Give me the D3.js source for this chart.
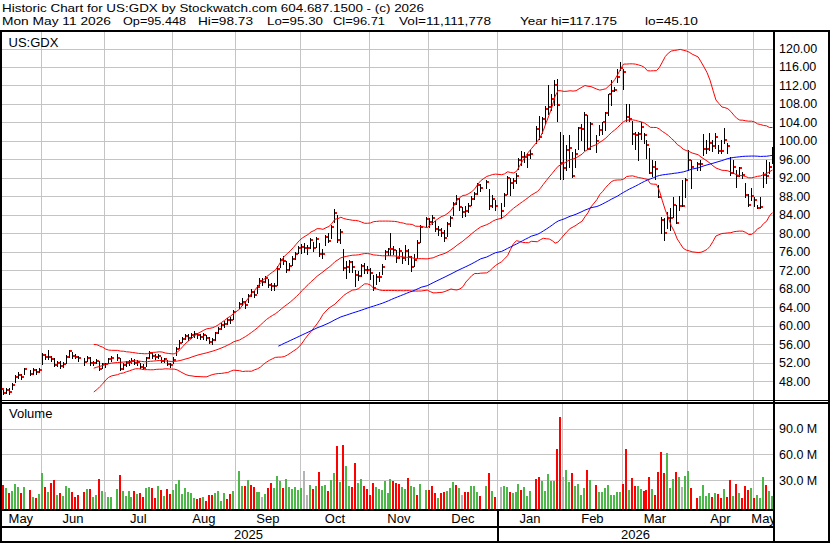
<!DOCTYPE html>
<html>
<head>
<meta charset="utf-8">
<script src="https://cdnjs.cloudflare.com/ajax/libs/d3/7.8.5/d3.min.js"></script>
<style>
  body { margin: 0; background: #fff; }
  svg { display: block; }
  text { font-family: "Liberation Sans", Arial, sans-serif; fill: #000; }
</style>
</head>
<body>
<svg width="830" height="543"></svg>
<script>
const svg = d3.select("svg");
const width = +svg.attr("width");
const height = +svg.attr("height");

// --- calendar -------------------------------------------------------------
const firstDay = "2025-05-13";
const lastDay = "2026-05-11";
const holidays = ["2025-05-26", "2025-06-19", "2025-07-04", "2025-09-01", "2025-11-27",
  "2025-12-25", "2026-01-01", "2026-01-19", "2026-02-16", "2026-04-03"];
const monthLabels = ["May", "Jun", "Jul", "Aug", "Sep", "Oct", "Nov", "Dec",
  "Jan", "Feb", "Mar", "Apr", "May"];
const yearLabels = ["2025", "2026"];
const priceTicks = d3.range(48, 121, 4);
const volumeTicks = [30, 60, 90]; // millions

// --- daily data (one value per trading day) ---------------------------------
const close = [
  46.2, 45.3, 46.0, 45.6, 47.2, 48.8, 49.3, 48.9, 50.5, 49.5, 50.3, 50.0, 50.4, // May
  53.6, 53.1, 53.2, 52.8, 51.5, 52.0, 51.2, 51.7, 53.3, 54.4, 53.4, 53.3, 52.9, 52.2, 53.0, 51.8, 51.9, 52.4, 50.7, 51.7, // Jun
  51.7, 52.7, 52.9, 53.0, 50.7, 51.5, 51.8, 52.2, 52.4, 52.0, 52.2, 51.1, 50.9, 52.9, 54.1, 53.4, 53.2, 53.5, 52.4, 52.7, 51.7, 51.5, // Jul
  52.6, 54.9, 56.3, 57.2, 57.7, 57.4, 58.0, 58.2, 57.9, 57.5, 57.9, 57.4, 56.5, 56.8, 58.3, 59.2, 60.1, 60.3, 61.2, 61.2, 63.0, // Aug
  64.7, 65.2, 64.4, 66.4, 67.3, 66.6, 68.4, 69.6, 69.5, 70.3, 68.8, 68.5, 68.5, 72.2, 74.2, 74.0, 72.0, 72.9, 74.5, 75.6, 76.7, // Sep
  77.0, 76.9, 76.7, 78.5, 76.7, 78.8, 75.5, 75.5, 79.2, 78.3, 81.4, 84.4, 78.5, 80.3, 72.5, 72.6, 73.8, 72.6, 70.9, 70.7, 72.9, 72.0, 72.0, // Oct
  71.3, 68.2, 70.6, 70.6, 72.6, 75.9, 76.5, 76.6, 76.4, 74.7, 76.1, 74.7, 76.2, 74.9, 72.7, 74.2, 77.9, 81.4, 83.0, // Nov
  82.5, 83.2, 81.0, 80.6, 80.0, 79.0, 81.9, 83.2, 86.3, 87.5, 85.7, 84.6, 84.8, 86.0, 87.5, 88.4, 90.4, 89.7, 91.1, 85.8, 87.5, 85.8, // Dec
  84.8, 88.2, 92.0, 90.9, 91.3, 92.3, 95.8, 96.5, 96.6, 96.9, 97.1, 102.6, 100.8, 104.8, 106.9, 107.3, 109.1, 112.0, 107.7, 95.1, // Jan
  94.1, 97.95, 98.45, 92.4, 97.1, 102.8, 102.5, 105.7, 98.3, 103.7, 99.9, 102.3, 104.1, 106.1, 110.2, 110.8, 111.1, 113.8, 115.75, // Feb
  115.0, 105.2, 104.8, 101.55, 101.2, 101.4, 103.0, 101.3, 99.1, 93.1, 94.4, 93.9, 87.9, 82.9, 80.1, 83.4, 83.4, 86.1, 82.3, 85.8, 85.8, 91.5, // Mar
  95.9, 94.4, 94.9, 94.9, 98.2, 98.2, 99.5, 98.8, 100.8, 97.7, 97.7, 100.2, 98.8, 93.0, 94.4, 92.3, 94.1, 92.6, 88.3, 86.1, 88.1, // Apr
  87.2, 85.5, 85.6, 92.6, 92.3, 94.4, 96.71 // May
];

const high = [
  46.8, 46.3, 46.5, 46.4, 47.5, 49.2, 49.9, 49.6, 50.8, 50.3, 50.8, 50.6, 50.9,
  54.0, 53.9, 54.7, 53.4, 52.9, 52.4, 52.3, 52.2, 53.6, 54.8, 54.3, 53.9, 53.5, 52.9, 53.4, 53.2, 52.3, 52.8, 52.4, 51.9,
  52.0, 53.0, 53.4, 53.9, 53.0, 51.9, 52.3, 52.6, 53.0, 52.7, 52.5, 52.0, 51.6, 53.1, 54.5, 54.2, 53.8, 53.9, 53.3, 53.0, 52.6, 52.0,
  53.3, 55.3, 56.8, 57.6, 58.2, 58.1, 58.5, 58.8, 58.5, 58.2, 58.3, 58.0, 57.6, 57.3, 58.6, 59.6, 60.5, 60.9, 61.6, 61.8, 63.3,
  65.2, 65.9, 65.3, 66.8, 67.9, 67.5, 68.8, 70.2, 70.3, 70.8, 70.1, 69.3, 69.2, 73.0, 74.6, 75.0, 73.9, 73.6, 75.0, 76.0, 77.3,
  77.6, 77.8, 77.5, 79.0, 78.2, 79.2, 77.8, 76.5, 79.6, 80.0, 81.8, 85.2, 84.0, 81.0, 76.5, 74.0, 74.3, 74.0, 72.0, 71.8, 73.4, 73.6, 73.0,
  72.5, 71.0, 71.2, 71.6, 73.3, 76.3, 76.9, 80.0, 77.2, 76.4, 76.8, 76.0, 77.4, 76.6, 75.0, 75.5, 78.6, 81.8, 83.6,
  83.4, 84.0, 82.6, 81.6, 81.2, 80.6, 82.4, 83.8, 86.8, 88.2, 87.6, 85.6, 85.8, 86.6, 88.0, 89.0, 90.9, 90.6, 91.6, 89.5, 88.2, 87.2,
  86.5, 88.8, 92.3, 92.0, 91.9, 93.0, 96.2, 97.8, 97.6, 97.4, 98.0, 103.2, 105.3, 105.2, 107.6, 112.0, 110.2, 113.1, 113.4, 101.9,
  101.2, 99.0, 101.2, 97.6, 98.3, 103.0, 103.7, 106.2, 105.5, 104.1, 101.2, 103.4, 104.1, 106.2, 110.2, 113.1, 111.6, 115.6, 117.175,
  115.6, 108.0, 108.0, 104.4, 101.9, 101.9, 104.1, 101.6, 100.2, 98.4, 95.9, 95.6, 90.5, 83.6, 83.2, 84.7, 85.4, 87.9, 86.1, 88.1, 91.5, 91.9,
  98.0, 95.9, 95.5, 95.9, 101.5, 100.2, 101.6, 100.2, 101.6, 99.1, 100.2, 102.7, 99.5, 96.6, 95.9, 93.7, 94.4, 93.3, 90.8, 88.6, 89.7,
  87.9, 86.1, 87.9, 93.3, 95.8, 95.4, 98.73
];

const low = [
  45.5, 45.1, 45.4, 45.2, 46.3, 47.8, 48.6, 48.5, 49.6, 49.2, 49.6, 49.6, 49.9,
  51.6, 52.7, 52.8, 52.4, 51.2, 51.3, 50.9, 51.0, 51.9, 53.3, 53.0, 52.9, 52.3, 51.5, 52.3, 51.4, 51.4, 51.8, 50.3, 50.8,
  51.1, 51.8, 52.4, 52.6, 50.4, 50.6, 51.2, 51.5, 51.9, 51.6, 51.5, 50.8, 50.5, 51.2, 52.9, 53.0, 52.8, 52.9, 52.1, 52.1, 51.5, 51.0,
  52.0, 53.6, 55.2, 56.4, 57.0, 56.9, 57.3, 57.6, 57.3, 57.0, 57.2, 56.8, 56.2, 56.0, 56.9, 58.3, 59.3, 59.6, 60.3, 60.5, 61.4,
  63.8, 64.4, 63.7, 65.0, 66.3, 66.1, 67.0, 68.6, 68.8, 69.4, 68.4, 67.8, 67.7, 68.8, 72.6, 73.4, 71.6, 72.0, 73.2, 74.5, 75.7,
  75.8, 76.0, 75.6, 76.9, 76.2, 77.0, 75.0, 74.6, 77.4, 78.0, 79.0, 82.4, 78.1, 77.8, 72.0, 70.4, 71.6, 71.5, 68.5, 69.8, 70.8, 71.4, 71.3,
  70.1, 67.8, 69.1, 69.6, 71.2, 74.5, 75.2, 75.2, 75.6, 73.8, 74.6, 73.6, 74.2, 73.3, 71.9, 73.0, 74.6, 78.0, 81.4,
  81.4, 82.0, 80.4, 79.6, 79.4, 78.4, 79.5, 81.6, 84.0, 86.4, 85.0, 83.6, 83.8, 84.6, 86.2, 87.4, 88.6, 89.2, 89.8, 85.2, 85.6, 85.0,
  83.2, 85.8, 88.6, 88.3, 89.9, 90.8, 94.0, 94.7, 95.4, 94.3, 96.2, 99.6, 100.3, 101.8, 103.7, 105.9, 106.6, 107.7, 104.4, 91.8,
  91.8, 93.6, 94.3, 92.2, 94.3, 98.3, 100.1, 98.0, 98.3, 98.3, 97.6, 101.2, 101.55, 102.3, 105.5, 107.8, 110.9, 112.7, 115.25,
  111.3, 104.4, 104.4, 99.4, 98.3, 95.8, 100.5, 99.5, 96.2, 93.0, 92.3, 91.8, 87.9, 80.0, 78.5, 81.1, 80.7, 83.6, 82.2, 85.0, 85.8, 87.9,
  93.7, 89.7, 93.7, 93.7, 96.9, 97.3, 98.0, 97.7, 98.4, 97.3, 97.3, 99.5, 97.3, 92.6, 93.0, 90.1, 92.3, 91.9, 87.9, 85.8, 87.2,
  85.8, 85.4, 85.4, 90.1, 90.8, 93.0, 95.30
];

// volume in millions of shares
const volume = [
  19.4, 24.1, 20.2, 15.2, 17.1, 25.3, 21.4, 15.2, 21.4, 18.3, 10.5, 9.3, 13.6,
  38.5, 22.2, 16.3, 26.8, 30.0, 12.4, 14.4, 11.3, 22.9, 20.2, 16.3, 10.5, 12.4, 16.3, 19.4, 19.4, 10.5, 12.4, 31.1, 17.1,
  16.3, 10.5, 9.7, 19.4, 35.8, 17.1, 11.3, 17.1, 10.5, 17.1, 13.6, 15.2, 9.7, 20.2, 22.2, 20.2, 9.3, 22.9, 18.3, 11.3, 19.4, 13.6,
  18.3, 25.3, 30.0, 13.6, 20.2, 16.3, 15.2, 9.3, 7.8, 9.3, 10.5, 5.8, 12.4, 12.4, 14.4, 17.1, 5.8, 15.2, 7.8, 13.6, 17.1,
  40.8, 22.9, 22.9, 30.0, 24.1, 21.4, 16.3, 16.3, 10.5, 13.6, 20.2, 26.8, 20.2, 34.6, 29.2, 21.0, 30.7, 21.4, 19.1, 21.4, 18.3,
  20.2, 40.8, 12.4, 24.1, 19.8, 22.9, 39.3, 22.9, 24.5, 17.5, 30.0, 38.5, 70.0, 28.0, 70.8, 46.3, 22.9, 22.2, 50.2, 26.8, 31.5, 22.9, 19.1,
  12.4, 26.8, 22.2, 19.8, 18.3, 29.2, 15.2, 31.1, 29.2, 26.8, 25.3, 22.2, 19.8, 32.7, 22.9, 22.2, 12.4, 25.3, 18.3,
  18.3, 22.9, 15.2, 9.3, 15.2, 16.3, 17.5, 21.0, 28.0, 24.1, 20.2, 12.4, 16.3, 16.3, 22.9, 22.9, 16.3, 11.3, 22.9, 38.5, 17.1, 10.5,
  22.2, 22.9, 22.2, 16.3, 15.2, 16.3, 25.3, 18.3, 21.4, 11.3, 17.5, 31.1, 33.8, 29.2, 17.1, 37.0, 29.2, 29.2, 66.1, 103.9,
  33.8, 41.6, 28.0, 38.5, 22.9, 25.3, 12.4, 21.0, 41.6, 30.0, 24.1, 16.3, 16.3, 21.0, 24.1, 12.4, 12.4, 16.3, 16.3,
  25.3, 66.1, 18.3, 32.7, 22.9, 22.9, 19.4, 17.5, 18.3, 33.4, 19.8, 12.4, 39.7, 63.0, 38.5, 61.8, 21.0, 31.1, 39.3, 33.8, 22.2, 35.0,
  40.8, 21.0, 9.3, 11.3, 24.1, 11.3, 15.2, 10.5, 14.4, 13.2, 9.3, 19.8, 9.7, 30.0, 11.3, 25.3, 15.2, 9.3, 22.9, 18.3, 20.2,
  9.3, 12.4, 9.3, 33.8, 24.1, 17.5, 11.1
];

// day direction (close vs open): u = up, d = down, n = unchanged
const direction = [
  "n d u d u u u d u d u d u",
  "u d u d d u d u u u d d d d u d u u d u",
  "n u u u d u u u u d u d d u u d d u d u d d",
  "u u u u u u u u d d u d d d u u u u d d u",
  "u u d u d d u u n u d d u u u d u u u u u",
  "u n n u d u d u u d u u d u d u u d d u u d d",
  "d d u u u u u u d d d u u d u u d u u",
  "d d d u d d u u u d u n d d u u u d u d u d",
  "n u u d u u u d u u u d d u u u u u d d",
  "n u u d u u u u d u d u u u u u u u u",
  "d d u d d u u d d d u d d d d u u u d u n u",
  "u d d u u u u d u d d u d d u d u d d d u",
  "d u u u d u u"
].join(" ").split(" ");

// --- layout ----------------------------------------------------------------
const plotRight = 774;
const priceTop = 32, priceBottom = 400;
const volTop = 403.5, volBottom = 509;
const font = 13;

const fmtDay = d3.utcFormat("%Y-%m-%d");
const slots = d3.utcDay
  .range(new Date(firstDay + "T00:00Z"), d3.utcDay.offset(new Date(lastDay + "T00:00Z"), 1))
  .filter(d => d.getUTCDay() % 6 !== 0)
  .map(fmtDay);
const tradingDays = slots.filter(s => !holidays.includes(s));

if (tradingDays.length !== close.length || close.length !== volume.length || direction.length !== close.length) {
  console.error("length mismatch", tradingDays.length, close.length, high.length, low.length, volume.length, direction.length);
}

const x = d3.scaleBand().domain(slots).range([0, plotRight]);
const slotX = i => x(tradingDays[i]);
const centerX = i => slotX(i) + x.bandwidth() / 2;

const y = d3.scaleLinear().domain([48, 120]).range([381, 48.5]);
const yv = d3.scaleLinear().domain([0, 90]).range([505.7, 428.6]);

// month and year boundaries
const monthStarts = slots.filter((s, i) => i > 0 && s.slice(5, 7) !== slots[i - 1].slice(5, 7));
const monthEdges = [0, ...monthStarts.map(s => x(s)), plotRight];
const yearStart = slots.find(s => s.startsWith("2026"));
const yearEdges = [0, x(yearStart), plotRight];

svg.append("rect").attr("width", width).attr("height", height).attr("fill", "#fff");

// --- grid --------------------------------------------------------------------
const grid = svg.append("g")
  .attr("stroke", "#c4c4c4")
  .attr("stroke-width", 1)
  .attr("shape-rendering", "crispEdges");

grid.selectAll("line.hp")
  .data(priceTicks)
  .join("line")
  .attr("class", "hp")
  .attr("x1", 2).attr("x2", plotRight - 1)
  .attr("y1", d => Math.round(y(d)) + 0.5)
  .attr("y2", d => Math.round(y(d)) + 0.5);

grid.selectAll("line.hv")
  .data(volumeTicks)
  .join("line")
  .attr("class", "hv")
  .attr("x1", 2).attr("x2", plotRight - 1)
  .attr("y1", d => Math.round(yv(d)) + 0.5)
  .attr("y2", d => Math.round(yv(d)) + 0.5);

[[priceTop, priceBottom], [volTop, volBottom]].forEach(([t, b], k) => {
  grid.selectAll("line.vm" + k)
    .data(monthStarts)
    .join("line")
    .attr("class", "vm" + k)
    .attr("x1", d => Math.floor(x(d)) + 0.5)
    .attr("x2", d => Math.floor(x(d)) + 0.5)
    .attr("y1", t).attr("y2", b);
});

// --- volume bars ---------------------------------------------------------------
const volColor = { u: "#4db84a", d: "#ff0000", n: "#b4b4b4" };

svg.append("g")
  .attr("shape-rendering", "crispEdges")
  .selectAll("rect")
  .data(volume)
  .join("rect")
  .attr("x", (d, i) => Math.floor(slotX(i)))
  .attr("width", 2)
  .attr("y", d => yv(d))
  .attr("height", d => volBottom - yv(d))
  .attr("fill", (d, i) => volColor[direction[i]]);

// --- price bars ------------------------------------------------------------------
svg.append("clipPath").attr("id", "priceClip")
  .append("rect")
  .attr("x", 2).attr("y", priceTop)
  .attr("width", plotRight - 2).attr("height", priceBottom - priceTop);

const price = svg.append("g").attr("clip-path", "url(#priceClip)");

const bars = price.append("g").attr("shape-rendering", "crispEdges");

bars.selectAll("line")
  .data(close)
  .join("line")
  .attr("x1", (d, i) => Math.floor(slotX(i)) + 1.5)
  .attr("x2", (d, i) => Math.floor(slotX(i)) + 1.5)
  .attr("y1", (d, i) => Math.round(y(high[i])))
  .attr("y2", (d, i) => Math.round(y(low[i])) + 1)
  .attr("stroke", "#000")
  .attr("stroke-width", 1);

bars.selectAll("rect")
  .data(close)
  .join("rect")
  .attr("x", (d, i) => Math.floor(slotX(i)) + 2)
  .attr("y", d => Math.round(y(d)) - 1)
  .attr("width", 2)
  .attr("height", 2)
  .attr("fill", "#ff0000");

// --- Bollinger bands (30 day, 2 sd) and 90 day average ---------------------------
const bandPeriod = 30;
const longPeriod = 90;

const bands = close.map((c, i) => {
  if (i < bandPeriod - 1) return null;
  const win = close.slice(i - bandPeriod + 1, i + 1);
  const m = d3.mean(win);
  const sd = Math.sqrt(d3.mean(win, v => (v - m) * (v - m)));
  return { i, mid: m, up: m + 2 * sd, lo: m - 2 * sd };
}).filter(Boolean);

const longAvg = close.map((c, i) => i < longPeriod - 1 ? null
  : { i, v: d3.mean(close.slice(i - longPeriod + 1, i + 1)) }).filter(Boolean);

const bandLine = key => d3.line().x(d => centerX(d.i)).y(d => y(d[key]));

["up", "mid", "lo"].forEach(key => {
  price.append("path")
    .datum(bands)
    .attr("d", bandLine(key))
    .attr("fill", "none")
    .attr("stroke", "#ff0000")
    .attr("stroke-width", 1);
});

price.append("path")
  .datum(longAvg)
  .attr("d", d3.line().x(d => centerX(d.i)).y(d => y(d.v)))
  .attr("fill", "none")
  .attr("stroke", "#0000ff")
  .attr("stroke-width", 1);

// --- frame ---------------------------------------------------------------------------
const frame = svg.append("g").attr("fill", "#000").attr("shape-rendering", "crispEdges");
const box = (x0, y0, w, h) => frame.append("rect").attr("x", x0).attr("y", y0).attr("width", w).attr("height", h);

box(0, 29.5, width, 2.5);          // under header
box(0, 30, 2, height - 30);        // left
box(827.5, 30, 2, height - 30);    // right
box(773, 30, 2, height - 30);      // axis
box(0, 400, width, 1);             // price panel bottom (double line)
box(0, 402, width, 1.5);
box(0, volBottom, 775, 2);         // under volume
box(0, 526, 775, 1.5);             // under months
box(0, 541, width, 2);             // bottom
box(Math.floor(x(yearStart)), volBottom, 1.5, 541 - volBottom); // year divider

// --- text --------------------------------------------------------------------------
const txt = svg.append("g").attr("font-size", font);

// two tight header lines, a little smaller so they do not collide
txt.append("text")
  .attr("x", 2).attr("y", 11.5)
  .attr("font-size", 11.5)
  .attr("textLength", 422)
  .attr("lengthAdjust", "spacingAndGlyphs")
  .text("Historic Chart for US:GDX by Stockwatch.com 604.687.1500 - (c) 2026");

const quote = [
  ["Mon May 11 2026", 2, 109],
  ["Op=95.448", 123, 63],
  ["Hi=98.73", 198, 55],
  ["Lo=95.30", 267, 56],
  ["Cl=96.71", 333, 52],
  ["Vol=11,111,778", 399, 92],
  ["Year hi=117.175", 520, 97],
  ["lo=45.10", 645, 53]
];
txt.selectAll("text.q")
  .data(quote)
  .join("text")
  .attr("class", "q")
  .attr("x", d => d[1]).attr("y", 24.5)
  .attr("font-size", 11.5)
  .attr("textLength", d => d[2])
  .attr("lengthAdjust", "spacingAndGlyphs")
  .text(d => d[0]);

txt.append("text").attr("x", 8.5).attr("y", 46.5).text("US:GDX");
txt.append("text").attr("x", 9).attr("y", 417.5).text("Volume");

txt.selectAll("text.pt")
  .data(priceTicks)
  .join("text")
  .attr("class", "pt")
  .attr("x", 779)
  .attr("y", d => y(d) + 4.5)
  .attr("font-size", 12.5)
  .text(d => d3.format(".2f")(d));

txt.selectAll("text.vt")
  .data(volumeTicks)
  .join("text")
  .attr("class", "vt")
  .attr("x", 779)
  .attr("y", d => yv(d) + 4.5)
  .attr("font-size", 12.5)
  .text(d => d3.format(".1f")(d) + " M");

svg.append("clipPath").attr("id", "axisClip")
  .append("rect").attr("x", 0).attr("y", volBottom).attr("width", 773).attr("height", 40);

txt.append("g").attr("clip-path", "url(#axisClip)")
  .selectAll("text")
  .data(monthLabels)
  .join("text")
  .attr("x", (d, i) => (monthEdges[i] + monthEdges[i + 1]) / 2)
  .attr("y", 522.5)
  .attr("text-anchor", "middle")
  .text(d => d);

txt.selectAll("text.yr")
  .data(yearLabels)
  .join("text")
  .attr("class", "yr")
  .attr("x", (d, i) => (yearEdges[i] + yearEdges[i + 1]) / 2)
  .attr("y", 539)
  .attr("text-anchor", "middle")
  .text(d => d);
</script>
</body>
</html>
